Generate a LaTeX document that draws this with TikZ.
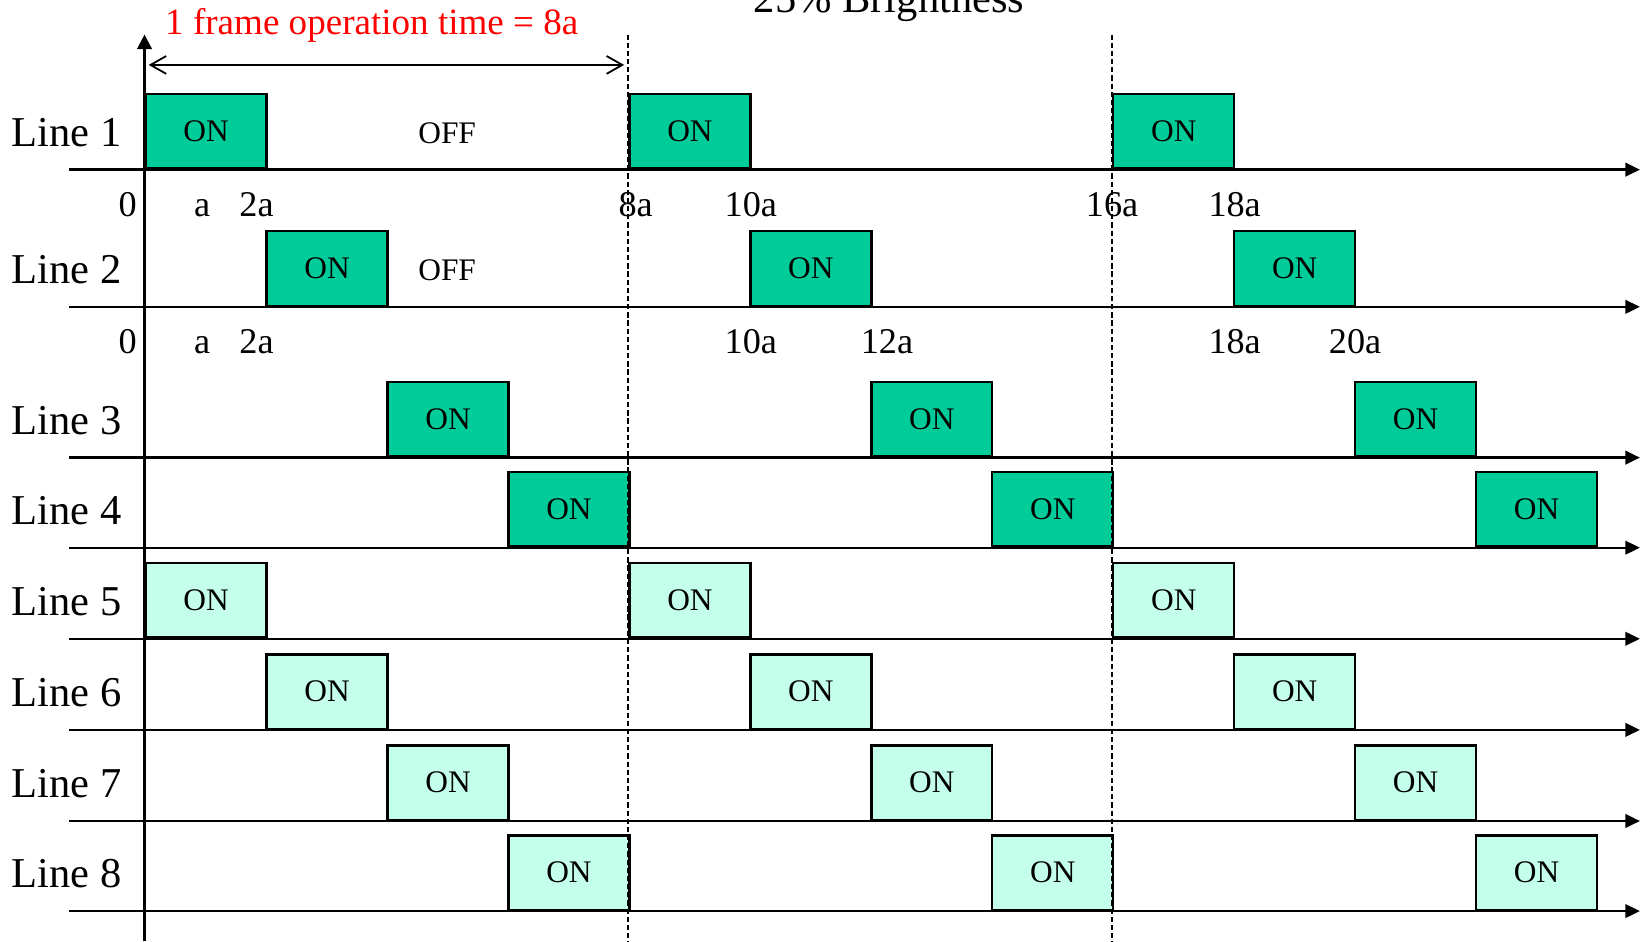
\documentclass[tikz,border=0pt]{standalone}
\usepackage{fontspec}
\setmainfont{Liberation Serif}
\usetikzlibrary{arrows.meta}
\definecolor{darkon}{RGB}{0,204,153}
\definecolor{lighton}{RGB}{196,255,236}
\newcommand{\linefont}{\fontsize{20.3}{24}\selectfont}
\newcommand{\onfont}{\fontsize{15}{18}\selectfont}
\newcommand{\tickfont}{\fontsize{17.3}{20}\selectfont}
\newcommand{\redfont}{\fontsize{17.7}{21}\selectfont}

\begin{document}
\begin{tikzpicture}[x=0.5pt,y=-0.5pt]
\tikzstyle{every node}=[inner sep=0pt]
\tikzstyle{timeaxis}=[line width=1.1pt,-{Triangle[length=7pt,width=6.5pt]}]
\tikzstyle{onbox}=[draw,line width=1.1pt,anchor=south west,minimum width=57.75pt,minimum height=35.5pt,font=\onfont]
\tikzstyle{linelab}=[anchor=west,font=\linefont]
\tikzstyle{tick}=[anchor=base,font=\tickfont]
\tikzstyle{frameline}=[line width=0.8pt,dash pattern=on 2.5pt off 1.4pt]
\useasboundingbox (0,0) rectangle (1568,898.6);

% lines and ON slots
\foreach \n/\y/\s/\col in {1/162/0/darkon,2/293/2/darkon,3/437/4/darkon,4/523/6/darkon,
                           5/610/0/lighton,6/697/2/lighton,7/784/4/lighton,8/870/6/lighton}{
  \node[linelab] (lab\n) at (11,\y-35.5) {Line \n};
  \coordinate (s\n) at (66,\y);
  \coordinate (e\n) at (1566,\y);
  \draw[timeaxis] (s\n) -- (e\n);
  \foreach \k in {0,1,2}
    \node[onbox,fill=\col] (on\n-\k) at ({138+57.75*(\s+8*\k)},\y) {ON};
}
\node[font=\onfont] (off1) at (427,127) {OFF};
\node[font=\onfont] (off2) at (427,258) {OFF};

% time axis and frame borders
\coordinate (ybot) at (138,899);
\coordinate (ytop) at (138,33);
\draw[line width=1.1pt,-{Triangle[length=7pt,width=7pt]}] (ybot) -- (ytop);
\coordinate (d1top) at (600,33);
\coordinate (d1bot) at (600,899);
\coordinate (d2top) at (1062,33);
\coordinate (d2bot) at (1062,899);
\draw[frameline] (d1top) -- (d1bot);
\draw[frameline] (d2top) -- (d2bot);

% one frame
\coordinate (f0) at (142,62);
\coordinate (f8) at (596,62);
\draw[line width=0.85pt,{Straight Barb[length=7.5pt,width=8.5pt]}-{Straight Barb[length=7.5pt,width=8.5pt]}] (f0) -- (f8);
\node[anchor=base,text=red,font=\redfont] (frame) at (355,33) {1 frame operation time = 8a};
\node[anchor=base,font=\linefont] (title) at (849,12) {25\% Brightness};

% time marks
\foreach \x/\t in {122/0,193/a,245/2a,607/8a,717/10a,1062/16a,1179/18a}
  \node[tick] (ta\t) at (\x,207) {\t};
\foreach \x/\t in {122/0,193/a,245/2a,717/10a,847/12a,1179/18a,1294/20a}
  \node[tick] (tb\t) at (\x,338) {\t};

\end{tikzpicture}
\end{document}
